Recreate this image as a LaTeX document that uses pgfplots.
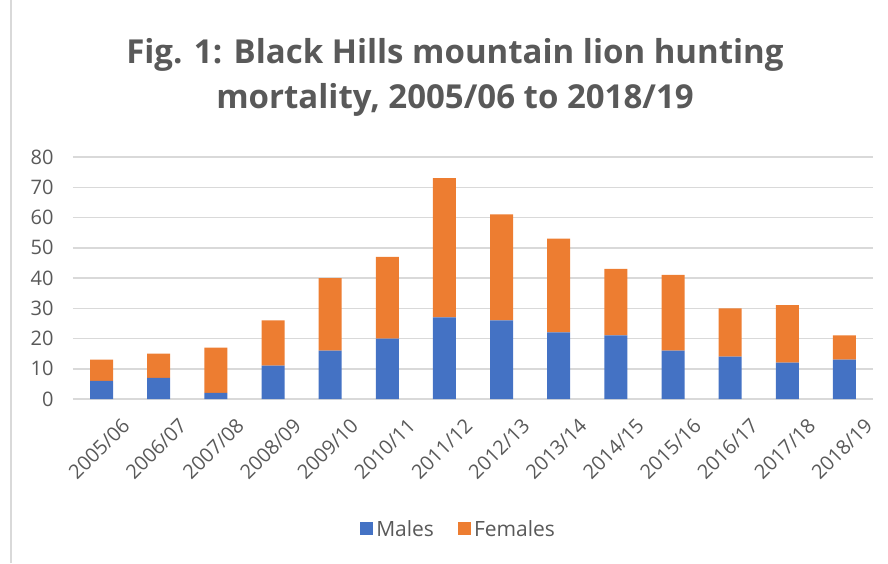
\documentclass[border=0pt]{standalone}
\usepackage{fontspec}
\setmainfont{Open Sans}
\usepackage{pgfplots}
\pgfplotsset{compat=1.18}
\definecolor{males}{HTML}{4472C4}
\definecolor{females}{HTML}{ED7D31}
\definecolor{txt}{HTML}{595959}
\definecolor{gridc}{HTML}{D9D9D9}
\begin{document}
\begin{tikzpicture}
\useasboundingbox (0pt,0pt) rectangle (888pt,563pt);
\draw[gridc, line width=1.5pt] (11pt,0pt) -- (11pt,563pt);
\node[align=center, text=txt, font=\fontsize{33}{45}\selectfont\bfseries] at (455pt,486pt)
  {Fig. 1: Black Hills mountain lion hunting\\mortality, 2005/06 to 2018/19};
\begin{axis}[
  at={(73pt,164pt)}, anchor=south west,
  scale only axis, width=800pt, height=242pt,
  ybar stacked, bar width=23pt,
  ymin=0, ymax=80, xmin=-0.5, xmax=13.5,
  ytick={0,10,...,80},
  xtick={0,...,13},
  xticklabels={2005/06,2006/07,2007/08,2008/09,2009/10,2010/11,2011/12,2012/13,2013/14,2014/15,2015/16,2016/17,2017/18,2018/19},
  xticklabel style={rotate=45, anchor=north east, inner sep=0pt, xshift=1pt, yshift=-26pt},
  ymajorgrids, grid style={gridc, line width=1.5pt},
  axis x line*=bottom, axis y line*=left,
  x axis line style={gridc, line width=1.5pt, -},
  y axis line style={draw=none},
  tick style={draw=none},
  tick label style={text=txt, font=\fontsize{20}{24}\selectfont},
  /pgf/number format/assume math mode=true,
  yticklabel style={xshift=-16pt},
  legend style={at={(0.482,-0.537)}, anchor=center, draw=none, fill=none,
    legend columns=2, font=\fontsize{21}{25}\selectfont, text=txt,
    /tikz/every odd column/.append style={column sep=1pt},
    /tikz/every even column/.append style={column sep=22pt}},
  legend image code/.code={\fill[#1] (0pt,-6.5pt) rectangle (13pt,6.5pt);},
]
\addplot[fill=males, draw=none] coordinates {(0,6) (1,7) (2,2) (3,11) (4,16) (5,20) (6,27) (7,26) (8,22) (9,21) (10,16) (11,14) (12,12) (13,13)};
\addplot[fill=females, draw=none] coordinates {(0,7) (1,8) (2,15) (3,15) (4,24) (5,27) (6,46) (7,35) (8,31) (9,22) (10,25) (11,16) (12,19) (13,8)};
\legend{Males, Females}
\end{axis}
\end{tikzpicture}
\end{document}
